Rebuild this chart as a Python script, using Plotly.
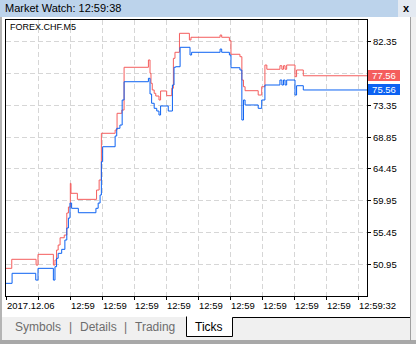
import plotly.graph_objects as go

WINDOW_TITLE = "Market Watch: 12:59:38"
SYMBOL = "FOREX.CHF.M5"
TAB_NAMES = ["Symbols", "Details", "Trading", "Ticks"]
ACTIVE_TAB = "Ticks"

# tick index (arbitrary time units) and ask / bid prices, step-wise
ask_t = [0, 1.8, 9.4, 10.0, 14.8, 15.3, 15.8, 16.3, 16.9, 18.2, 19.0, 19.5, 20.1, 20.3,
         22.3, 28.3, 29.1, 29.8, 34.1, 34.7, 36.2, 36.9, 44.5, 45.0, 45.3, 45.7, 46.3,
         46.8, 47.8, 48.3, 50.2, 51.8, 52.3, 52.8, 54.2, 57.3, 57.8, 66.9, 67.4, 69.8,
         70.3, 73.1, 73.7, 74.2, 74.7, 78.8, 79.9, 80.9, 81.5, 85.6, 86.2, 86.7, 87.2,
         87.7, 90.3, 90.8, 92.9, 112.8]
ask_price = [50.48, 51.75, 50.94, 52.45, 50.94, 51.65, 53.05, 53.76, 54.78, 55.16, 58.26,
             59.10, 62.43, 61.03, 60.18, 61.49, 62.90, 69.47, 69.93, 72.28, 72.74, 78.75,
             79.78, 77.91, 76.50, 75.56, 75.09, 74.71, 74.15, 75.42, 74.76, 75.80, 80.01,
             80.86, 83.53, 82.59, 82.97, 83.29, 82.97, 82.49, 80.58, 80.24, 76.96, 76.02,
             75.46, 74.85, 76.02, 79.07, 78.47, 78.97, 78.47, 78.97, 78.47, 79.07, 77.43,
             78.37, 77.56, 77.56]

bid_t = [0, 1.9, 9.3, 10.0, 14.8, 15.3, 15.8, 16.3, 17.4, 18.4, 19.0, 19.5, 20.0, 20.5,
         22.6, 28.1, 28.8, 29.4, 29.8, 30.2, 34.1, 34.6, 35.6, 36.3, 36.9, 44.5, 45.0,
         45.5, 46.3, 47.1, 47.8, 48.3, 50.7, 52.0, 52.5, 53.0, 54.4, 57.5, 58.0, 66.9,
         67.4, 69.8, 70.3, 73.1, 73.7, 74.2, 74.7, 78.8, 79.9, 80.9, 85.6, 86.2, 86.7,
         87.2, 87.7, 90.3, 90.8, 92.9, 112.8]
bid_price = [48.37, 49.78, 48.83, 50.48, 48.83, 50.71, 51.89, 52.59, 53.15, 54.46, 56.15,
             57.55, 59.66, 58.92, 58.30, 58.92, 59.66, 60.79, 65.47, 67.58, 69.09, 70.17,
             70.63, 74.15, 76.72, 77.20, 74.99, 73.69, 72.98, 72.60, 72.04, 73.31, 72.60,
             76.26, 78.75, 78.83, 81.56, 80.48, 80.86, 81.32, 80.86, 80.48, 78.69, 78.37,
             71.34, 74.15, 73.45, 72.98, 74.15, 76.26, 76.96, 76.26, 76.96, 76.26, 76.96,
             74.85, 76.16, 75.56, 75.56]

y_tick_values = [50.95, 55.45, 59.95, 64.45, 68.85, 73.35, 77.85, 82.35]
y_tick_labels = ["50.95", "55.45", "59.95", "64.45", "68.85", "73.35", "", "82.35"]
x_tick_values = [0, 10, 20, 30, 40, 50, 60, 70, 80, 90, 100, 110]
x_tick_labels = ["2017.12.06", "", "12:59", "12:59", "12:59", "12:59", "12:59", "12:59",
                 "12:59", "12:59", "12:59", "12:59:32"]

ASK_COLOR = "#f45d5d"
BID_COLOR = "#0c62f2"
FONT = "Liberation Sans"

W, H = 416, 344
PL, PR, PT, PB = 6, 367, 20, 296


def px_x(x):
    return (x - PL) / (PR - PL)


def px_y(y):
    return (PB - y) / (PB - PT)


fig = go.Figure()
fig.add_trace(go.Scatter(x=ask_t, y=ask_price, mode="lines", line=dict(color=ASK_COLOR, width=1, shape="hv"),
                         hoverinfo="skip", showlegend=False))
fig.add_trace(go.Scatter(x=bid_t, y=bid_price, mode="lines", line=dict(color=BID_COLOR, width=1, shape="hv"),
                         hoverinfo="skip", showlegend=False))

shapes = []


def rect(x0, y0, x1, y1, fill, line=None, layer="below"):
    shapes.append(dict(type="rect", xref="paper", yref="paper", x0=px_x(x0), x1=px_x(x1),
                       y0=px_y(y0), y1=px_y(y1), fillcolor=fill, layer=layer,
                       line=dict(width=0) if line is None else line))


def path(points, color, width=1):
    d = "M " + " L ".join(f"{px_x(x)},{px_y(y)}" for x, y in points)
    shapes.append(dict(type="path", xref="paper", yref="paper", path=d,
                       line=dict(color=color, width=width), layer="above"))


# window chrome
rect(0, 0, 416, 17, "#bcd3eb")
rect(398, 0, 416, 17, "#e4eaf2")
rect(0, 17, 2, 344, "#b4b4b4")
rect(410, 17, 416, 344, "#f0f0f0")
path([(410.5, 17), (410.5, 341)], "#a0a0a0")
rect(2, 317, 410, 340, "#f0f0f0")
rect(0, 340, 416, 344, "#a8a8a8")
rect(186, 316.5, 232, 337, "#ffffff", layer="above")
path([(186.5, 316.5), (186.5, 336.5), (232.5, 336.5), (232.5, 317.5), (410, 317.5)], "#000000")

annotations = []
annotations.append(dict(xref="paper", yref="paper", x=px_x(3), y=px_y(8.5), xanchor="left", yanchor="middle",
                        text=WINDOW_TITLE, showarrow=False, font=dict(family=FONT, size=11, color="#000")))
annotations.append(dict(xref="paper", yref="paper", x=px_x(406), y=px_y(8.5), xanchor="center", yanchor="middle",
                        text="<b>x</b>", showarrow=False, font=dict(family=FONT, size=11, color="#000")))
annotations.append(dict(xref="paper", yref="paper", x=px_x(7.5), y=px_y(27.3), xanchor="left", yanchor="middle",
                        text=SYMBOL, showarrow=False, font=dict(family=FONT, size=9, color="#000")))

# x tick labels, left-aligned at their ticks
for tv, tl in zip(x_tick_values, x_tick_labels):
    if tl:
        annotations.append(dict(xref="x", yref="paper", x=tv, y=px_y(305), xanchor="left", yanchor="middle",
                                xshift=-1, text=tl, showarrow=False,
                                font=dict(family=FONT, size=9.5, color="#000")))

# last price boxes
for price, col in ((ask_price[-1], ASK_COLOR), (bid_price[-1], BID_COLOR)):
    annotations.append(dict(xref="paper", yref="y", x=px_x(368), y=price, xanchor="left", yanchor="middle",
                            text=f"{price:.2f}", showarrow=False, bgcolor=col, width=32, height=11,
                            borderpad=0, borderwidth=0, align="center",
                            font=dict(family=FONT, size=9.5, color="#ffffff")))

# tabs
tab_centers = [37.5, 98, 154.5, 209]
for name, cx in zip(TAB_NAMES, tab_centers):
    annotations.append(dict(xref="paper", yref="paper", x=px_x(cx), y=px_y(326.5), xanchor="center",
                            yanchor="middle", text=name, showarrow=False,
                            font=dict(family=FONT, size=12, color="#000" if name == ACTIVE_TAB else "#6d6d6d")))
for sx in (70.7, 125.7):
    annotations.append(dict(xref="paper", yref="paper", x=px_x(sx), y=px_y(326.5), xanchor="center",
                            yanchor="middle", text="|", showarrow=False,
                            font=dict(family=FONT, size=12, color="#6d6d6d")))

fig.update_layout(
    width=W, height=H,
    margin=dict(l=PL, r=W - PR, t=PT, b=H - PB, pad=0),
    paper_bgcolor="#ffffff", plot_bgcolor="#ffffff",
    hovermode=False,
    shapes=shapes, annotations=annotations,
    xaxis=dict(range=[0, 112.8], tickmode="array", tickvals=x_tick_values, showticklabels=False,
               ticks="outside", ticklen=3, tickcolor="#000", showgrid=True, gridcolor="#d6d6d6",
               griddash="5px,3px", gridwidth=1, showline=True, linecolor="#000", linewidth=1,
               mirror=True, zeroline=False, fixedrange=True),
    yaxis=dict(range=[46.59, 85.4], side="right", tickmode="array", tickvals=y_tick_values,
               ticktext=y_tick_labels, ticks="outside", ticklen=3, tickcolor="#000",
               tickfont=dict(family=FONT, size=9.5, color="#000"),
               showgrid=True, gridcolor="#d6d6d6", griddash="5px,3px", gridwidth=1,
               showline=True, linecolor="#000", linewidth=1, mirror=True, zeroline=False,
               fixedrange=True),
)

fig.write_html("out.html", config={"displayModeBar": False})
